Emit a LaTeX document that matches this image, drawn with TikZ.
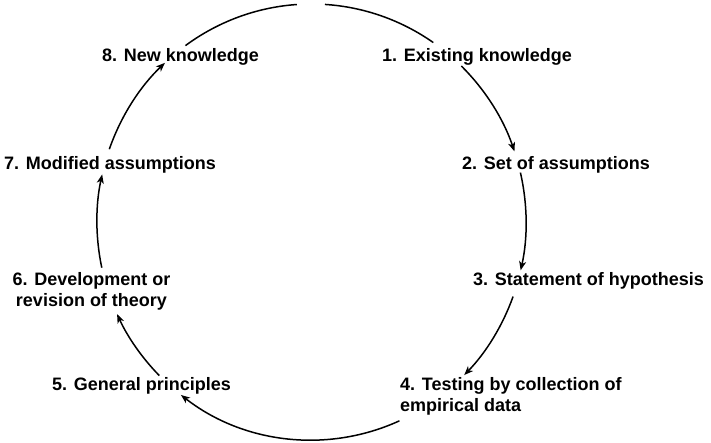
\documentclass[tikz,border=0pt]{standalone}
\usepackage{fontspec}
\setmainfont{Liberation Sans}
\usetikzlibrary{arrows.meta,calc}
\begin{document}
\begin{tikzpicture}[x=1pt,y=1pt,
  lbl/.style={font=\fontsize{18}{21}\selectfont\bfseries, inner sep=0pt},
  cyc/.style={line width=1.5pt},
  arr/.style={cyc,-{Stealth[length=9pt,width=7pt,inset=2.5pt]}}]
\useasboundingbox (0,0) rectangle (711,443);
\coordinate (c) at (311.5,221);
% labels
\node[lbl,anchor=base west] (n1) at (382,381) {1. Existing knowledge};
\node[lbl,anchor=base west] (n2) at (462,273) {2. Set of assumptions};
\node[lbl,anchor=base west] (n3) at (473,157) {3. Statement of hypothesis};
\node[lbl,anchor=base west] (n4) at (400,52) {\begin{tabular}[t]{@{}l@{}}4. Testing by collection of\\empirical data\end{tabular}};
\node[lbl,anchor=base west] (n5) at (52,52) {5. General principles};
\node[lbl,anchor=base] (n6) at (91.5,157) {\begin{tabular}[t]{@{}c@{}}6. Development or\\revision of theory\end{tabular}};
\node[lbl,anchor=base west] (n7) at (4,273) {7. Modified assumptions};
\node[lbl,anchor=base west] (n8) at (102,381) {8. New knowledge};
% arc end points
\coordinate (a0) at ([shift={(86.4:214.5 and 218)}]c);
\coordinate (b0) at ([shift={(45.7:214.5 and 218)}]c);
\coordinate (c0) at ([shift={(13.1:214.5 and 218)}]c);
\coordinate (d0) at ([shift={(-20:214.5 and 218)}]c);
\coordinate (e0) at ([shift={(-65.8:214.5 and 218)}]c);
\coordinate (f0) at ([shift={(-135.2:214.5 and 218)}]c);
\coordinate (g0) at ([shift={(192.1:214.5 and 218)}]c);
\coordinate (h0) at ([shift={(160.5:214.5 and 218)}]c);
\coordinate (i0) at ([shift={(126:214.5 and 218)}]c);
% arcs
\draw[cyc] (a0) arc[start angle=86.4,end angle=55.4,x radius=214.5,y radius=218];
\draw[arr] (b0) arc[start angle=45.7,end angle=18.9,x radius=214.5,y radius=218];
\draw[arr] (c0) arc[start angle=13.1,end angle=-12.8,x radius=214.5,y radius=218];
\draw[arr] (d0) arc[start angle=-20,end angle=-44.6,x radius=214.5,y radius=218];
\draw[arr] (e0) arc[start angle=-65.8,end angle=-127.5,x radius=214.5,y radius=218];
\draw[arr] (f0) arc[start angle=-135.2,end angle=-155,x radius=214.5,y radius=218];
\draw[arr] (g0) arc[start angle=192.1,end angle=167.4,x radius=214.5,y radius=218];
\draw[arr] (h0) arc[start angle=160.5,end angle=133.1,x radius=214.5,y radius=218];
\draw[cyc] (i0) arc[start angle=126,end angle=93.9,x radius=214.5,y radius=218];
\end{tikzpicture}
\end{document}
